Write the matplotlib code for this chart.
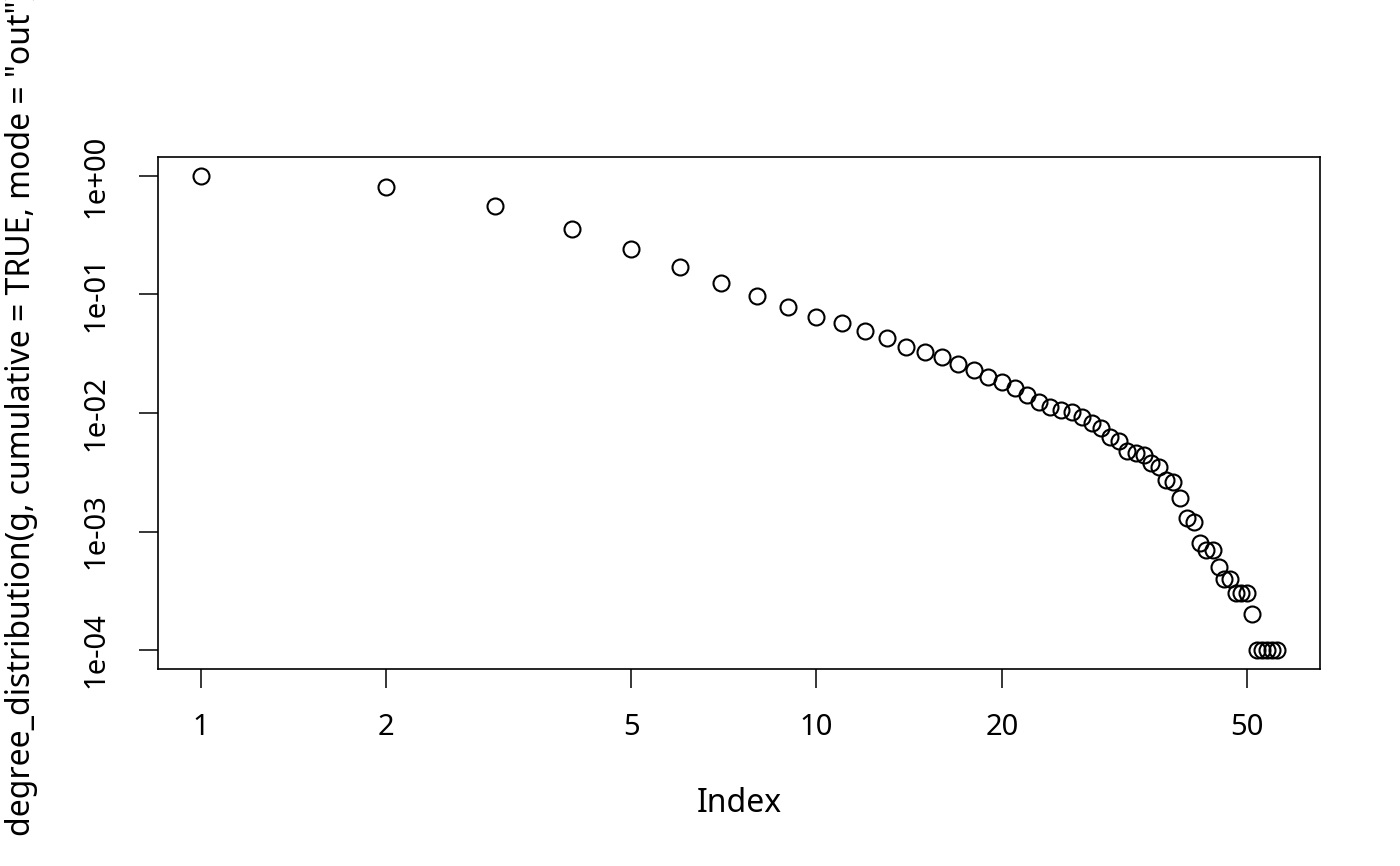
import numpy as np
import matplotlib
matplotlib.use("Agg")
import matplotlib.pyplot as plt

plt.rcParams["font.family"] = ["Noto Sans", "DejaVu Sans"]

# cumulative out-degree distribution
index = np.arange(1, 57)
cum_dist = [
    1.0, 0.808, 0.559, 0.358, 0.240, 0.171, 0.1256, 0.0977, 0.0788, 0.0650,
    0.0578, 0.0495, 0.0432, 0.0363, 0.0330, 0.0299, 0.0261, 0.0232, 0.0203, 0.0182,
    0.0161, 0.0143, 0.0125, 0.0113, 0.0105, 0.0101, 0.0092, 0.0083, 0.0074, 0.0063,
    0.0058, 0.0048, 0.0046, 0.0044, 0.0038, 0.0035, 0.0027, 0.0026, 0.0019, 0.0013,
    0.0012, 0.0008, 0.0007, 0.0007, 0.0005, 0.0004, 0.0004, 0.0003, 0.0003, 0.0003,
    0.0002, 0.0001, 0.0001, 0.0001, 0.0001, 0.0001,
]
x_ticks = [1, 2, 5, 10, 20, 50]
y_ticks = [1e0, 1e-1, 1e-2, 1e-3, 1e-4]
y_tick_labels = ["1e+00", "1e-01", "1e-02", "1e-03", "1e-04"]

fig = plt.figure(figsize=(14, 8.66), dpi=100)
ax = fig.add_axes([158 / 1400, 1 - 669 / 866, 1162 / 1400, 512 / 866])

ax.plot(index, cum_dist, linestyle="none", marker="o", markersize=11.5,
        markerfacecolor="none", markeredgecolor="black", markeredgewidth=1.5)

ax.set_xscale("log")
ax.set_yscale("log")

# R-style 4% padding in log space
lx = np.log10([index[0], index[-1]])
ly = np.log10([min(cum_dist), max(cum_dist)])
px = 0.04 * (lx[1] - lx[0])
py = 0.04 * (ly[1] - ly[0])
ax.set_xlim(10 ** (lx[0] - px), 10 ** (lx[1] + px))
ax.set_ylim(10 ** (ly[0] - py), 10 ** (ly[1] + py))

ax.xaxis.set_major_locator(matplotlib.ticker.FixedLocator(x_ticks))
ax.xaxis.set_minor_locator(matplotlib.ticker.NullLocator())
ax.set_xticklabels([str(t) for t in x_ticks])
ax.yaxis.set_major_locator(matplotlib.ticker.FixedLocator(y_ticks))
ax.yaxis.set_minor_locator(matplotlib.ticker.NullLocator())
ax.set_yticklabels(y_tick_labels, rotation=90, va="center")

ax.tick_params(axis="both", direction="out", length=14, width=1.1,
               labelsize=21, color="black")
ax.tick_params(axis="x", pad=18)
ax.tick_params(axis="y", pad=20)

for s in ax.spines.values():
    s.set_linewidth(1.2)

ax.set_xlabel("Index", fontsize=23)
ax.xaxis.label.set_va("center")
ax.xaxis.set_label_coords(0.5, (669 - 803) / 512)
ax.set_ylabel('degree_distribution(g, cumulative = TRUE, mode = "out")', fontsize=23)
ax.yaxis.label.set_va("center")
ax.yaxis.set_label_coords((22 - 158) / 1162, 0.5)

fig.savefig("out.png", dpi=100)
